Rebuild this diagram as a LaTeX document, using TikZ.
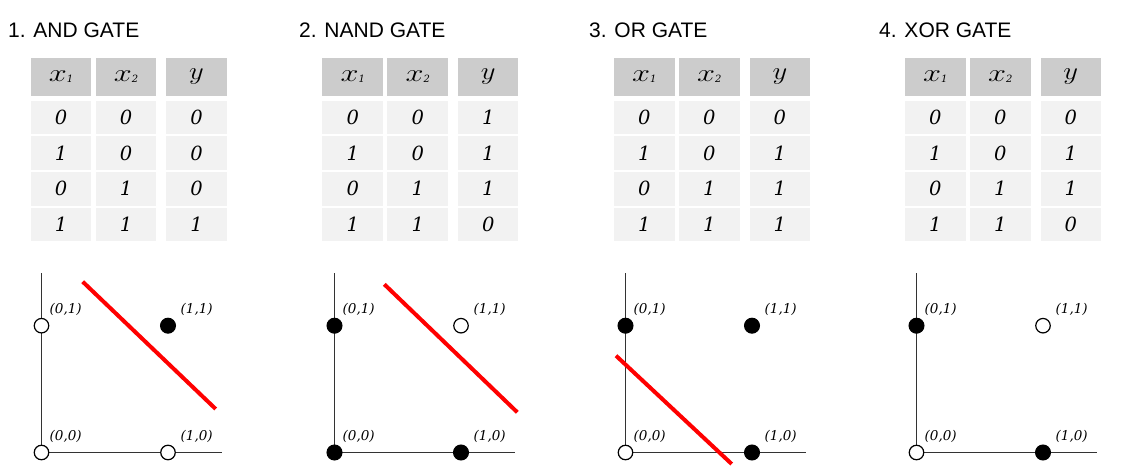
\documentclass[tikz,border=0pt]{standalone}
\usepackage{fontspec}
\newfontfamily\titlefont{Liberation Sans}
\newfontfamily\digitfont{DejaVu Serif}[UprightFont=* Italic]
\definecolor{hdrgray}{HTML}{CCCCCC}
\definecolor{cellgray}{HTML}{F2F2F2}
\definecolor{axisgray}{HTML}{333333}
\newcommand{\hvar}[2]{\scalebox{1.3}[1]{$#1$}\raisebox{-1pt}{\digitfont\fontsize{10}{10}\selectfont #2}}
\tikzset{
  hdr/.style={fill=hdrgray, minimum width=60.5pt, minimum height=37.5pt, inner sep=0pt, font=\fontsize{27}{27}\selectfont},
  cell/.style={fill=cellgray, minimum width=60.5pt, minimum height=33.5pt, inner sep=0pt, font=\digitfont\fontsize{19.5}{19.5}\selectfont},
  title/.style={anchor=base west, inner sep=0pt, font=\titlefont\fontsize{21}{21}\selectfont},
  axis/.style={line width=1.2pt, draw=axisgray},
  on/.style={circle, fill=black, draw=black, minimum size=15pt, inner sep=0pt, line width=1pt},
  off/.style={circle, fill=white, draw=black, minimum size=14.5pt, inner sep=0pt, line width=1.2pt},
  lbl/.style={anchor=base west, inner sep=0pt, font=\digitfont\fontsize{13.5}{13.5}\selectfont},
  sep/.style={red, line width=4pt},
}
\begin{document}
\begin{tikzpicture}[x=1pt,y=-1pt]
\useasboundingbox (0,0) rectangle (1125,468);
\foreach \k/\tx/\dx/\ax/\ttl/\ya/\yb/\yc/\yd in {
  1/8/0/41.5/{1. AND GATE}/0/0/0/1,
  2/299/291.7/334.5/{2. NAND GATE}/1/1/1/0,
  3/589/583.4/625.5/{3. OR GATE}/0/1/1/1,
  4/879/874.3/916.5/{4. XOR GATE}/0/1/1/0}
{
  % title
  \node[title] (t\k) at (\tx,37.3) {\ttl};
  % header
  \node[hdr] (h\k-1) at (\dx+61,77) {\hvar{x}{1}};
  \node[hdr] (h\k-2) at (\dx+126,77) {\hvar{x}{2}};
  \node[hdr] (h\k-3) at (\dx+196.5,77) {\scalebox{1.15}[1]{$y$}};
  % rows
  \node[cell] (c\k-1-1) at (\dx+61,117.75) {0};
  \node[cell] (c\k-1-2) at (\dx+126,117.75) {0};
  \node[cell] (c\k-1-3) at (\dx+196.5,117.75) {\ya};
  \node[cell] (c\k-2-1) at (\dx+61,153.25) {1};
  \node[cell] (c\k-2-2) at (\dx+126,153.25) {0};
  \node[cell] (c\k-2-3) at (\dx+196.5,153.25) {\yb};
  \node[cell] (c\k-3-1) at (\dx+61,188.75) {0};
  \node[cell] (c\k-3-2) at (\dx+126,188.75) {1};
  \node[cell] (c\k-3-3) at (\dx+196.5,188.75) {\yc};
  \node[cell] (c\k-4-1) at (\dx+61,224.25) {1};
  \node[cell] (c\k-4-2) at (\dx+126,224.25) {1};
  \node[cell] (c\k-4-3) at (\dx+196.5,224.25) {\yd};
  % axes
  \coordinate (top\k) at (\ax,273);
  \coordinate (o\k) at (\ax,452.5);
  \coordinate (end\k) at (\ax+180,452.5);
  \draw[axis] (top\k) -- (o\k) -- (end\k);
}
% separating lines
\coordinate (r1a) at (82.7,281.7);  \coordinate (r1b) at (215.7,409);
\coordinate (r2a) at (384.3,284.3); \coordinate (r2b) at (517.3,412.3);
\coordinate (r3a) at (616,355.7);   \coordinate (r3b) at (731.7,464);
\draw[sep] (r1a) -- (r1b);
\draw[sep] (r2a) -- (r2b);
\draw[sep] (r3a) -- (r3b);
% points and labels
\foreach \k/\ax/\sa/\sb/\sc/\sd in {
  1/41.5/off/off/off/on,
  2/334.5/on/on/on/off,
  3/625.5/off/on/on/on,
  4/916.5/off/on/on/off}
{
  \node[\sa] (p\k-00) at (\ax,452.5) {};
  \node[\sb] (p\k-10) at (\ax+126.5,452.5) {};
  \node[\sc] (p\k-01) at (\ax,325.7) {};
  \node[\sd] (p\k-11) at (\ax+126.5,325.7) {};
  \node[lbl] (l\k-00) at (\ax+8,440) {(0,0)};
  \node[lbl] (l\k-10) at (\ax+139,440) {(1,0)};
  \node[lbl] (l\k-01) at (\ax+8,313.2) {(0,1)};
  \node[lbl] (l\k-11) at (\ax+139,313.2) {(1,1)};
}
\end{tikzpicture}
\end{document}
